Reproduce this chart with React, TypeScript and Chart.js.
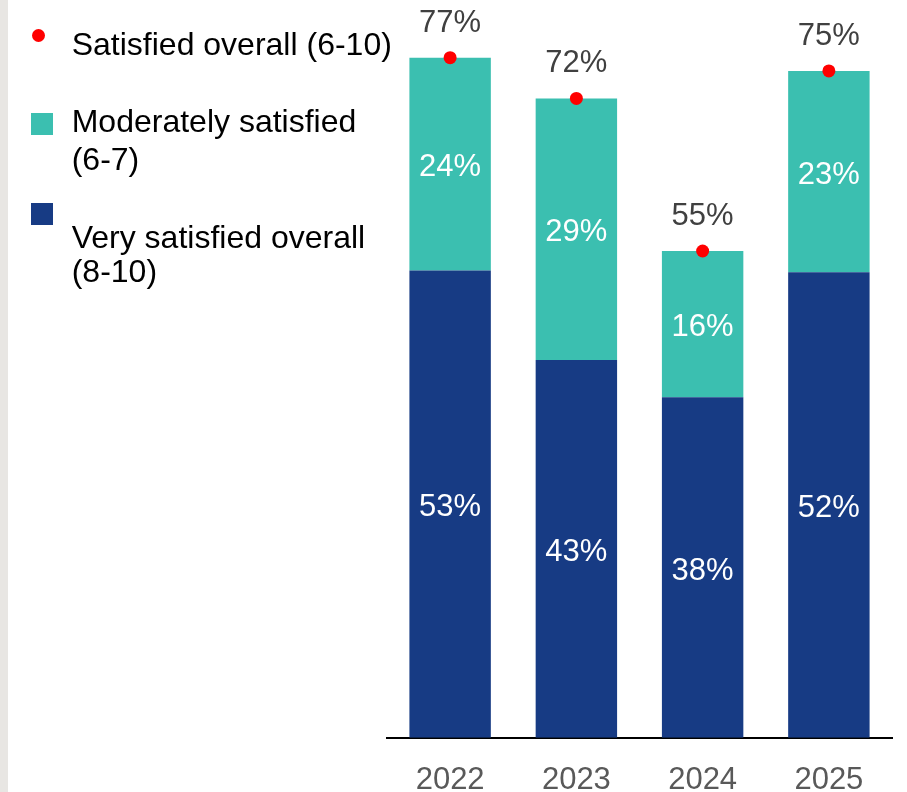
import React, { useEffect, useRef } from "react";
import { Chart, registerables } from "chart.js";

Chart.register(...registerables);

const years = ["2022", "2023", "2024", "2025"];
const verySatisfied = [52.7, 42.6, 38.4, 52.5];
const moderatelySatisfied = [24.0, 29.5, 16.5, 22.7];
const satisfiedOverall = [76.7, 72.1, 54.9, 75.2];
const veryLabels = ["53%", "43%", "38%", "52%"];
const moderateLabels = ["24%", "29%", "16%", "23%"];
const overallLabels = ["77%", "72%", "55%", "75%"];

const FONT = '"Liberation Sans", Arial, Helvetica, sans-serif';
const NAVY = "#173B84";
const TEAL = "#3BBFB0";
const RED = "#FF0000";

const labelPlugin = {
  id: "valueLabels",
  afterDatasetsDraw(chart: any) {
    const ctx = chart.ctx;
    ctx.save();
    ctx.font = `31px ${FONT}`;
    ctx.textAlign = "center";
    ctx.textBaseline = "alphabetic";
    const sets = [
      { idx: 0, labels: veryLabels },
      { idx: 1, labels: moderateLabels },
    ];
    sets.forEach(({ idx, labels }) => {
      const meta = chart.getDatasetMeta(idx);
      meta.data.forEach((el: any, i: number) => {
        const mid = (el.y + el.base) / 2;
        ctx.fillStyle = "#FFFFFF";
        ctx.fillText(labels[i], el.x, mid + 12);
      });
    });
    const pm = chart.getDatasetMeta(2);
    pm.data.forEach((el: any, i: number) => {
      ctx.fillStyle = "#404040";
      ctx.fillText(overallLabels[i], el.x, el.y - 26);
    });
    ctx.restore();
  },
};

function Legend() {
  const textStyle = (left: number, baseline: number): React.CSSProperties => ({
    position: "absolute",
    left,
    top: baseline - 27.1,
    fontFamily: FONT,
    fontSize: "32px",
    lineHeight: "32px",
    color: "#000000",
    whiteSpace: "nowrap",
  });
  return (
    <>
      <div
        style={{
          position: "absolute",
          left: 31.8,
          top: 28.5,
          width: 13,
          height: 13,
          borderRadius: "50%",
          background: RED,
        }}
      />
      <div style={textStyle(71.7, 55)}>Satisfied overall (6-10)</div>
      <div
        style={{ position: "absolute", left: 30.7, top: 113.3, width: 22, height: 22, background: TEAL }}
      />
      <div style={textStyle(71.7, 131.7)}>Moderately satisfied</div>
      <div style={textStyle(71.7, 170)}>(6-7)</div>
      <div
        style={{ position: "absolute", left: 30.7, top: 203.3, width: 22, height: 22, background: NAVY }}
      />
      <div style={textStyle(71.7, 248.3)}>Very satisfied overall</div>
      <div style={textStyle(71.7, 281.7)}>(8-10)</div>
    </>
  );
}

export default function App() {
  const canvasRef = useRef<HTMLCanvasElement | null>(null);

  useEffect(() => {
    if (!canvasRef.current) return;
    const chart = new Chart(canvasRef.current, {
      type: "bar",
      data: {
        labels: years,
        datasets: [
          {
            type: "bar",
            label: "Very satisfied overall (8-10)",
            data: verySatisfied,
            backgroundColor: NAVY,
            stack: "bars",
            order: 1,
            barPercentage: 0.645,
            categoryPercentage: 1,
          },
          {
            type: "bar",
            label: "Moderately satisfied (6-7)",
            data: moderatelySatisfied,
            backgroundColor: TEAL,
            stack: "bars",
            order: 2,
            barPercentage: 0.645,
            categoryPercentage: 1,
          },
          {
            type: "line",
            label: "Satisfied overall (6-10)",
            data: satisfiedOverall,
            showLine: false,
            pointRadius: 6.5,
            pointHoverRadius: 6.5,
            pointBackgroundColor: RED,
            pointBorderWidth: 0,
            borderColor: RED,
            backgroundColor: RED,
            stack: "points",
            order: 0,
          } as any,
        ],
      },
      options: {
        animation: false,
        responsive: false,
        maintainAspectRatio: false,
        devicePixelRatio: 1,
        layout: { padding: { left: 387, right: 15, top: 28.4, bottom: 0 } },
        plugins: {
          legend: { display: false },
          tooltip: { enabled: false },
        },
        scales: {
          x: {
            stacked: true,
            grid: { display: false, drawTicks: false },
            border: { display: true, color: "#000000", width: 2 },
            ticks: {
              color: "#595959",
              font: { family: FONT, size: 31 },
              padding: 24,
              maxRotation: 0,
            },
          },
          y: {
            stacked: true,
            display: false,
            min: 0,
            max: 80,
          },
        },
      },
      plugins: [labelPlugin],
    });
    return () => chart.destroy();
  }, []);

  return (
    <div
      style={{
        position: "fixed",
        left: 0,
        top: 0,
        width: 907,
        height: 792,
        overflow: "hidden",
        background: "#FFFFFF",
      }}
    >
      <canvas
        ref={canvasRef}
        width={907}
        height={823}
        style={{ position: "absolute", left: 0, top: 0, width: 907, height: 823 }}
      />
      <div style={{ position: "absolute", left: 0, top: 0, width: 8, height: 792, background: "#E8E6E3" }} />
      <Legend />
    </div>
  );
}
